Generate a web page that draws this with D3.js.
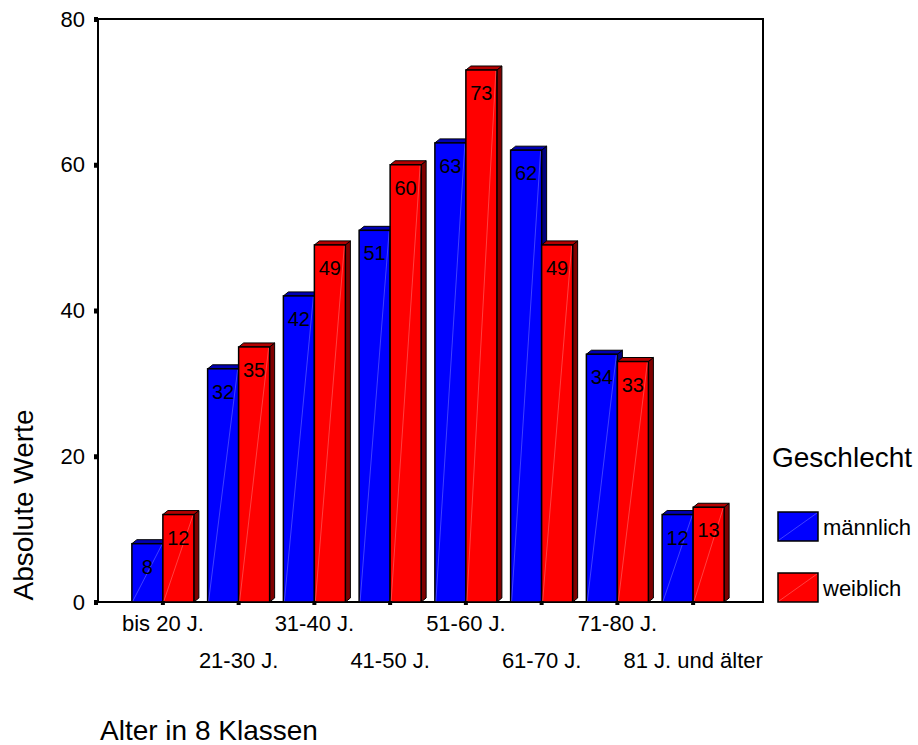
<!DOCTYPE html>
<html>
<head>
  <meta charset="utf-8">
  <title>Alter in 8 Klassen</title>
  <style>
    body { margin: 0; background: #fff; }
    text { font-family: Arial, "Liberation Sans", sans-serif; fill: #000; }
    .frame { fill: none; stroke: #000; stroke-width: 2px; }
    .front { stroke: #000; stroke-width: 1.5px; }
    .side, .top { stroke: #000; stroke-width: 1px; }
    .shine { stroke-width: 0.6px; opacity: 0.7; }
  </style>
  <script src="https://d3js.org/d3.v7.min.js"></script>
</head>
<body>
  <script>
    var categories = ["bis 20 J.", "21-30 J.", "31-40 J.", "41-50 J.", "51-60 J.", "61-70 J.", "71-80 J.", "81 J. und älter"];
    var maennlich = [8, 32, 42, 51, 63, 62, 34, 12];
    var weiblich = [12, 35, 49, 60, 73, 49, 33, 13];
    var seriesNames = ["männlich", "weiblich"];
    var yTicks = [0, 20, 40, 60, 80];

    var width = 918;
    var height = 745;
    var svg = d3.select('body')
      .append('svg')
      .attr('width', width)
      .attr('height', height);

    // plot frame: left 98, right 763, top 19, bottom 602
    var x = d3.scaleBand()
      .domain(categories)
      .range([125, 731])
      .paddingInner(0);
    var y = d3.scaleLinear()
      .domain([0, 80])
      .range([602, 19]);

    var barW = 31;
    var dx = 5, dy = -4;   // 3D depth
    var colors = [
      { front: "#0000ff", top: "#0000b4", side: "#000080", shine: "#9a9aff" },
      { front: "#ff0000", top: "#b40000", side: "#800000", shine: "#ff9a9a" }
    ];

    svg.append('rect')
      .attr('class', 'frame')
      .attr('x', 98)
      .attr('y', y(80))
      .attr('width', 763 - 98)
      .attr('height', y(0) - y(80));

    // bars
    var bars = [];
    categories.forEach(function(c, i) {
      var cx = x(c) + x.bandwidth() / 2;
      bars.push({ cat: c, s: 0, v: maennlich[i], x0: cx - barW, x1: cx });
      bars.push({ cat: c, s: 1, v: weiblich[i], x0: cx, x1: cx + barW });
    });

    var bar = svg.selectAll('.bar')
      .data(bars)
      .enter()
      .append('g')
        .attr('class', 'bar');

    bar.append('path')
      .attr('class', 'side')
      .attr('fill', d => colors[d.s].side)
      .attr('d', d => {
        var t = y(d.v), b = y(0);
        return 'M' + d.x1 + ',' + b + 'L' + (d.x1 + dx) + ',' + (b + dy)
          + 'L' + (d.x1 + dx) + ',' + (t + dy) + 'L' + d.x1 + ',' + t + 'Z';
      });

    bar.append('path')
      .attr('class', 'top')
      .attr('fill', d => colors[d.s].top)
      .attr('d', d => {
        var t = y(d.v);
        return 'M' + d.x0 + ',' + t + 'L' + (d.x0 + dx) + ',' + (t + dy)
          + 'L' + (d.x1 + dx) + ',' + (t + dy) + 'L' + d.x1 + ',' + t + 'Z';
      });

    bar.append('rect')
      .attr('class', 'front')
      .attr('fill', d => colors[d.s].front)
      .attr('x', d => d.x0)
      .attr('y', d => y(d.v))
      .attr('width', barW)
      .attr('height', d => y(0) - y(d.v));

    bar.append('line')
      .attr('class', 'shine')
      .attr('stroke', d => colors[d.s].shine)
      .attr('x1', d => d.x0 + 1)
      .attr('y1', d => y(0) - 1)
      .attr('x2', d => d.x1 - 1)
      .attr('y2', d => y(d.v) + 1);

    bar.append('text')
      .attr('x', d => (d.x0 + d.x1) / 2)
      .attr('y', d => y(d.v) + 30)
      .attr('text-anchor', 'middle')
      .style('font-size', '20px')
      .text(d => d.v);

    // y axis ticks
    svg.selectAll('.ytick')
      .data(yTicks)
      .enter()
      .append('rect')
        .attr('x', 94)
        .attr('y', d => y(d) - 2)
        .attr('width', 4)
        .attr('height', 5);

    svg.selectAll('.ylabel')
      .data(yTicks)
      .enter()
      .append('text')
        .attr('x', 85)
        .attr('y', d => y(d))
        .attr('dy', '0.35em')
        .attr('text-anchor', 'end')
        .style('font-size', '22px')
        .text(d => d);

    // x axis ticks (origin + category centers)
    svg.append('rect').attr('x', 94).attr('y', 601).attr('width', 4).attr('height', 4);
    svg.selectAll('.xtick')
      .data(categories)
      .enter()
      .append('rect')
        .attr('x', d => x(d) + x.bandwidth() / 2 - 2)
        .attr('y', 601)
        .attr('width', 4)
        .attr('height', 4);

    svg.selectAll('.xlabel')
      .data(categories)
      .enter()
      .append('text')
        .attr('x', d => x(d) + x.bandwidth() / 2)
        .attr('y', (d, i) => i % 2 === 0 ? 631 : 668)
        .attr('text-anchor', 'middle')
        .style('font-size', '22px')
        .text(d => d);

    // axis titles
    svg.append('text')
      .attr('transform', 'translate(33,505) rotate(-90)')
      .attr('text-anchor', 'middle')
      .style('font-size', '28px')
      .text('Absolute Werte');

    svg.append('text')
      .attr('x', 100)
      .attr('y', 740)
      .style('font-size', '28px')
      .text('Alter in 8 Klassen');

    // legend
    var legend = svg.append('g');
    legend.append('text')
      .attr('x', 772)
      .attr('y', 467)
      .style('font-size', '28px')
      .text('Geschlecht');

    var item = legend.selectAll('.item')
      .data(seriesNames)
      .enter()
      .append('g')
        .attr('transform', (d, i) => 'translate(778,' + (512 + i * 61) + ')');

    item.append('rect')
      .attr('class', 'front')
      .attr('fill', (d, i) => colors[i].front)
      .attr('width', 40)
      .attr('height', 29);

    item.append('line')
      .attr('class', 'shine')
      .attr('stroke', (d, i) => colors[i].shine)
      .attr('x1', 1).attr('y1', 28)
      .attr('x2', 39).attr('y2', 1);

    item.append('text')
      .attr('x', 45)
      .attr('y', 23)
      .style('font-size', '22px')
      .text(d => d);
  </script>
</body>
</html>
